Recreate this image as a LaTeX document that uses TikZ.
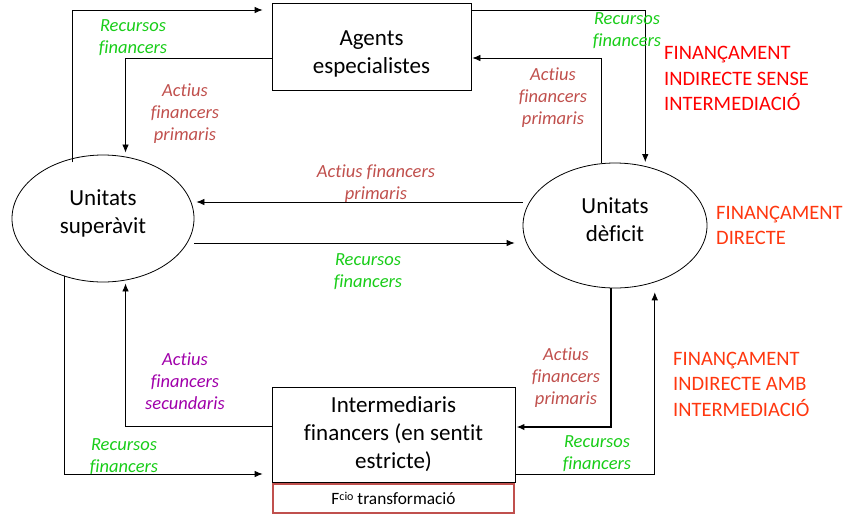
\documentclass[tikz,border=0pt]{standalone}
\usepackage{fontspec}
\setmainfont{Carlito}[Ligatures=NoCommon]
\usetikzlibrary{shapes.geometric,arrows.meta}
\definecolor{grn}{RGB}{25,205,25}
\definecolor{rosy}{RGB}{192,80,77}
\definecolor{purp}{RGB}{160,0,170}
\definecolor{tred}{RGB}{255,0,0}
\definecolor{ored}{RGB}{255,55,15}
\definecolor{boxred}{RGB}{192,80,77}
\begin{document}
\begin{tikzpicture}[x=1pt,y=-1pt,
  arr/.style={-{Latex[length=8pt,width=6.5pt]}, line width=0.8pt},
  thk/.style={-{Latex[length=8pt,width=6.5pt]}, line width=1.8pt},
  lbl/.style={font=\fontsize{18.5}{22}\selectfont\itshape, align=center, inner sep=0pt},
  big/.style={font=\fontsize{23}{28}\selectfont, align=center, inner sep=0pt},
  fin/.style={font=\fontsize{20.5}{25.5}\selectfont, align=left, anchor=west, inner sep=0pt},
  boxnode/.style={draw, line width=0.8pt, rectangle, inner sep=0pt},
  ellnode/.style={draw, line width=0.8pt, ellipse, inner sep=0pt}
]
\useasboundingbox (0,0) rectangle (848,515);

% shapes
\node[boxnode, minimum width=199pt, minimum height=87pt] (ag) at (371.5,46.5) {};
\node[big] (agt) at (371.5,54) {Agents\\especialistes};
\node[ellnode, minimum width=182pt, minimum height=127pt] (sup) at (103,218.5) {};
\node[big] (supt) at (103,213.5) {Unitats\\superàvit};
\node[ellnode, minimum width=184pt, minimum height=125pt] (dft) at (615,225.5) {};
\node[big] (dftt) at (615,220) {Unitats\\dèficit};
\node[boxnode, big, minimum width=243pt, minimum height=95pt] (im) at (393.5,434.5) {Intermediaris\\financers (en sentit\\estricte)};
\node[draw=boxred, line width=2pt, rectangle, minimum width=241pt, minimum height=29pt, inner sep=0pt,
      font=\fontsize{17.3}{20}\selectfont] (fc) at (393.5,498.5) {F\raisebox{0.45ex}{\fontsize{12}{12}\selectfont cio} transformació};

% connectors
\draw[arr] ([yshift=-4pt]sup.117) |- ([xshift=-9pt,yshift=36.5pt]ag.west);
\draw[arr] ([yshift=-11.5pt]ag.west) -| ([yshift=4pt]sup.70);
\draw[arr] ([yshift=36.5pt]ag.east) -| ([yshift=4pt]dft.63);
\draw[arr] (dft.102) |- ([xshift=1pt,yshift=-11.5pt]ag.east);
\draw[arr] ([yshift=23.5pt]dft.west) -- ([xshift=2pt,yshift=16.5pt]sup.east);
\draw[arr] ([yshift=-24.5pt]sup.east) -- ([xshift=-8pt,yshift=-17.5pt]dft.west);
\draw[arr] (sup.236) |- ([xshift=-9pt,yshift=-39.5pt]im.west);
\draw[arr] ([yshift=8.5pt]im.west) -| ([yshift=-3pt]sup.290);
\draw[thk] (dft.266) |- ([xshift=1pt,yshift=7.5pt]im.east);
\draw[arr] ([yshift=-39.5pt]im.east) -| ([yshift=-10pt]dft.305);

% labels
\node[lbl, text=grn] (l1) at (133,37.5) {Recursos\\financers};
\node[lbl, text=rosy] (l2) at (185,114) {Actius\\financers\\primaris};
\node[lbl, text=grn] (l3) at (627,31) {Recursos\\financers};
\node[lbl, text=rosy] (l4) at (553,97.5) {Actius\\financers\\primaris};
\node[lbl, text=rosy] (l5) at (376,184) {Actius financers\\primaris};
\node[lbl, text=grn] (l6) at (368,271.5) {Recursos\\financers};
\node[lbl, text=purp] (l7) at (185,381) {Actius\\financers\\secundaris};
\node[lbl, text=grn] (l8) at (124,456.5) {Recursos\\financers};
\node[lbl, text=rosy] (l9) at (566,377.5) {Actius\\financers\\primaris};
\node[lbl, text=grn] (l10) at (597,454) {Recursos\\financers};

\node[fin, text=tred] (f1) at (664,78.5) {FINANÇAMENT\\INDIRECTE SENSE\\INTERMEDIACIÓ};
\node[fin, text=ored] (f2) at (716,225.5) {FINANÇAMENT\\DIRECTE};
\node[fin, text=ored] (f3) at (673,384) {FINANÇAMENT\\INDIRECTE AMB\\INTERMEDIACIÓ};
\end{tikzpicture}
\end{document}
